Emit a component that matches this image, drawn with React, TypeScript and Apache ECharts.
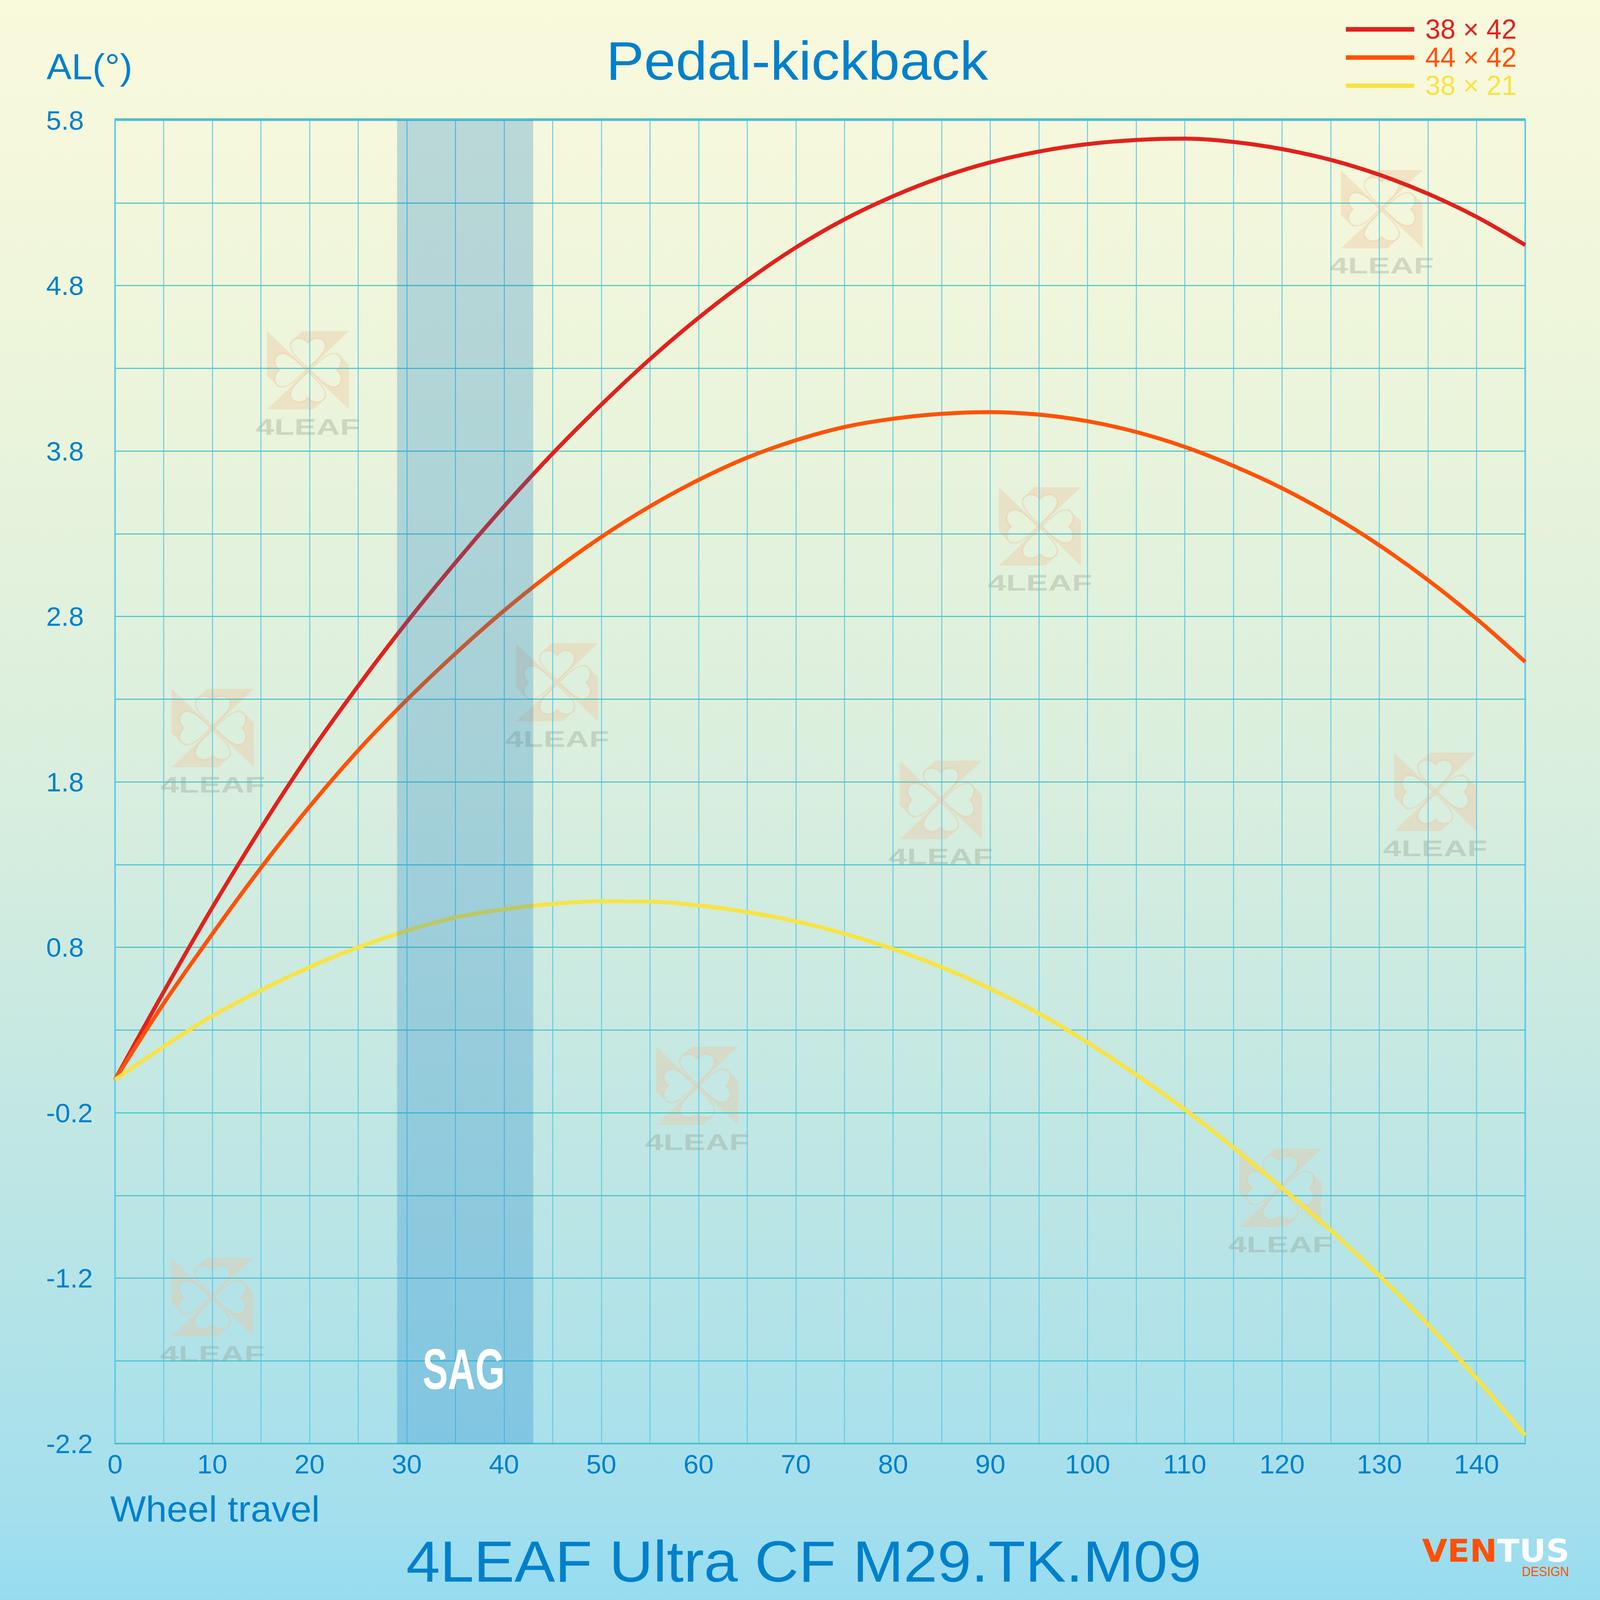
import React, { useEffect, useRef } from 'react';
import * as echarts from 'echarts';

const W = 7039;
const H = 7365;

// ---------- data ----------
const wheelTravel = [0, 5, 10, 15, 20, 25, 30, 35, 40, 45, 50, 55, 60, 65, 70, 75, 80, 85, 90, 95, 100, 105, 110, 115, 120, 125, 130, 135, 140, 145];
const al38x42 = [0, 0.53, 1.04, 1.52, 1.97, 2.38, 2.765, 3.125, 3.465, 3.785, 4.08, 4.355, 4.605, 4.83, 5.03, 5.2, 5.34, 5.455, 5.545, 5.61, 5.655, 5.68, 5.688, 5.668, 5.625, 5.56, 5.47, 5.355, 5.215, 5.045];
const al44x42 = [0, 0.46, 0.88, 1.28, 1.65, 1.99, 2.295, 2.575, 2.835, 3.07, 3.28, 3.465, 3.625, 3.76, 3.865, 3.945, 3.995, 4.025, 4.035, 4.02, 3.98, 3.915, 3.825, 3.71, 3.575, 3.415, 3.23, 3.02, 2.785, 2.525];
const al38x21 = [0, 0.2, 0.385, 0.54, 0.68, 0.8, 0.9, 0.98, 1.03, 1.062, 1.078, 1.076, 1.053, 1.013, 0.957, 0.882, 0.79, 0.68, 0.55, 0.4, 0.225, 0.03, -0.18, -0.41, -0.655, -0.91, -1.185, -1.48, -1.805, -2.15];
const seriesNames = ['38 × 42', '44 × 42', '38 × 21'];
const seriesColors = ['#E2211C', '#FF5206', '#F8E343'];

const X_MIN = 0;
const X_MAX = 145;
const X_STEP = 5;
const X_LABEL_STEP = 10;
const Y_MIN = -2.2;
const Y_MAX = 5.8;
const Y_STEP = 0.5;
const Y_LABEL_STEP = 1;

const sagRange = [29, 43];
const sagLabel = { text: 'SAG', x: 35.85, y: -1.75 };

const titleText = 'Pedal-kickback';
const yAxisName = 'AL(°)';
const xAxisName = 'Wheel travel';
const modelName = '4LEAF Ultra CF M29.TK.M09';

// ---------- styling ----------
const FONT = "'Liberation Sans', Arial, Helvetica, sans-serif";
const BLUE = '#0080CC';

const bgStops: [number, [number, number, number]][] = [
  [0, [249, 249, 220]],
  [0.07, [246, 248, 220]],
  [0.23, [236, 245, 219]],
  [0.5, [216, 238, 222]],
  [0.73, [190, 230, 228]],
  [0.95, [163, 223, 237]],
  [1, [150, 220, 241]],
];
const rgb = (c: number[]) => `rgb(${c.map((v) => Math.round(v)).join(',')})`;
function bgAt(y: number) {
  const t = Math.min(1, Math.max(0, y / H));
  for (let i = 0; i < bgStops.length - 1; i++) {
    const [o0, c0] = bgStops[i];
    const [o1, c1] = bgStops[i + 1];
    if (t >= o0 && t <= o1) {
      const f = (t - o0) / (o1 - o0);
      return rgb(c0.map((v, j) => v + (c1[j] - v) * f));
    }
  }
  return rgb(bgStops[bgStops.length - 1][1]);
}

// ---------- watermark shapes (0..100 box) ----------
type Pt = [number, number];
const rotPt = (p: Pt, k: number): Pt => {
  let [x, y] = p;
  for (let i = 0; i < k; i++) {
    const nx = 100 - y;
    const ny = x;
    x = nx;
    y = ny;
  }
  return [x, y];
};
const fmt = (p: Pt) => p.map((v) => v.toFixed(2)).join(' ');
const heartStart: Pt = [50, 48];
const heartSegs: Pt[][] = [
  [[45, 42], [31, 31], [29, 21]],
  [[27.5, 13], [34, 9], [40, 9.5]],
  [[45, 10], [48, 12.5], [50, 15]],
  [[52, 12.5], [55, 10], [60, 9.5]],
  [[66, 9], [72.5, 13], [71, 21]],
  [[69, 31], [55, 42], [50, 48]],
];
const blade: Pt[] = [[0, 0], [50, 50], [15, 72], [0, 57]];
let cloverD = '';
let pinD = '';
for (let k = 0; k < 4; k++) {
  cloverD += 'M' + fmt(rotPt(heartStart, k));
  heartSegs.forEach((s) => {
    cloverD += ' C' + s.map((p) => fmt(rotPt(p, k))).join(' ');
  });
  cloverD += ' Z ';
  pinD += 'M' + blade.map((p) => fmt(rotPt(p, k))).join(' L') + ' Z ';
}
echarts.graphic.registerShape('wmPinwheel', echarts.graphic.extendPath(pinD, {}));
echarts.graphic.registerShape('wmClover', echarts.graphic.extendPath(cloverD, {}));

const watermarkCenters: Pt[] = [
  [1355, 1704], [6079, 963], [4575, 2423], [2451, 3141], [936, 3351],
  [4139, 3682], [6314, 3645], [3067, 4998], [5633, 5468], [934, 5971],
];
const WM_SIZE = 361;
const WM_TAN = 'rgba(239,194,157,0.37)';
const WM_TEXT = 'rgba(140,145,125,0.30)';

type Sc = { sx: number; sy: number };

function buildGraphic({ sx, sy }: Sc) {
  const px = (v: number) => v * sx;
  const py = (v: number) => v * sy;
  const fx = sx / sy; // horizontal correction for text sized by sy
  const els: any[] = [];
  watermarkCenters.forEach(([cx, cy]) => {
    const base = {
      x: px(cx - WM_SIZE / 2), y: py(cy - WM_SIZE / 2),
      scaleX: (WM_SIZE / 100) * sx, scaleY: (WM_SIZE / 100) * sy, z: -2, silent: true,
    };
    els.push({ type: 'wmPinwheel', ...base, style: { fill: WM_TAN } });
    els.push({ type: 'wmClover', ...base, style: { fill: bgAt(cy), stroke: WM_TAN, lineWidth: 2 } });
    els.push({
      type: 'text', x: px(cx), y: py(cy + 261), scaleX: 1.42 * fx, z: -2, silent: true,
      style: {
        text: '4LEAF', fill: WM_TEXT, fontSize: py(102), fontWeight: 'bold', fontFamily: FONT,
        align: 'center', verticalAlign: 'middle',
      },
    });
  });
  const txt = (text: string, x: number, y: number, size: number, align: string, fill = BLUE, extraScale = 1) => ({
    type: 'text', x: px(x), y: py(y), scaleX: fx * extraScale, z: 10,
    style: { text, fill, fontSize: py(size), fontFamily: FONT, align, verticalAlign: 'middle' },
  });
  els.push(txt(titleText, 3507, 279, 250, 'center'));
  els.push(txt(yAxisName, 205, 308, 165, 'left'));
  els.push(txt(xAxisName, 485, 6946, 166, 'left'));
  els.push(txt(modelName, 3536, 7188, 268, 'center'));
  els.push({
    type: 'text', x: px(6905), y: py(7139), scaleX: fx, z: 10,
    style: {
      text: '{a|VEN}{b|TUS}', align: 'right', verticalAlign: 'middle',
      rich: {
        a: { fill: '#FF5003', fontSize: py(144), fontWeight: 'bold', fontFamily: "'DejaVu Sans', sans-serif" },
        b: { fill: '#FFFFFF', fontSize: py(144), fontWeight: 'bold', fontFamily: "'DejaVu Sans', sans-serif" },
      },
    },
  });
  els.push(txt('DESIGN', 6903, 7234, 63, 'right', '#FF5003', 0.86));
  return els;
}

function buildOption(sc: Sc): any {
  const { sx, sy } = sc;
  const px = (v: number) => v * sx;
  const py = (v: number) => v * sy;
  const pf = (v: number) => v * (sx + sy) / 2;
  const lineSeries = [al38x42, al44x42, al38x21].map((vals, i) => ({
    name: seriesNames[i],
    type: 'line',
    data: wheelTravel.map((x, j) => [x, vals[j]]),
    smooth: 0.35,
    showSymbol: false,
    symbol: 'none',
    color: seriesColors[i],
    lineStyle: { color: seriesColors[i], width: pf(18) },
    z: 2,
    silent: true,
  }));

  const sagSeries = {
    type: 'custom',
    name: 'SAG',
    data: [[sagRange[0], sagRange[1]]],
    encode: { x: [0, 1] },
    z: 5,
    silent: true,
    renderItem: (params: any, api: any) => {
      const p1 = api.coord([api.value(0), Y_MAX]);
      const p2 = api.coord([api.value(1), Y_MIN]);
      const pt = api.coord([sagLabel.x, sagLabel.y]);
      return {
        type: 'group',
        children: [
          {
            type: 'rect',
            shape: { x: p1[0], y: p1[1], width: p2[0] - p1[0], height: p2[1] - p1[1] },
            style: { fill: 'rgba(8,118,198,0.25)' },
          },
          {
            type: 'text', x: pt[0], y: pt[1], scaleX: 0.63 * sx / sy,
            style: {
              text: sagLabel.text, fill: '#FFFFFF', fontSize: py(265), fontWeight: 'bold', fontFamily: FONT,
              align: 'center', verticalAlign: 'middle',
            },
          },
        ],
      };
    },
  };

  return {
    animation: false,
    backgroundColor: {
      type: 'linear', x: 0, y: 0, x2: 0, y2: 1,
      colorStops: bgStops.map(([o, c]) => ({ offset: o, color: rgb(c) })),
    },
    grid: {
      left: px(506), right: px(329), top: py(553), bottom: py(720),
      show: true, borderColor: '#64CCEE', borderWidth: pf(7), backgroundColor: 'transparent',
    },
    legend: {
      orient: 'vertical', left: px(5921), top: py(72), padding: 0,
      itemWidth: px(301), itemHeight: py(21), itemGap: py(4), icon: 'rect', selectedMode: false,
      itemStyle: { borderWidth: 0 },
      textStyle: { fontSize: py(125), lineHeight: py(125), fontFamily: FONT, padding: [0, 0, 0, px(40)] },
      data: seriesNames.map((n, i) => ({ name: n, textStyle: { color: seriesColors[i] } })),
    },
    xAxis: [
      {
        type: 'value', min: X_MIN, max: X_MAX, interval: X_STEP, position: 'bottom',
        axisLine: { show: true, onZero: false, lineStyle: { color: '#3FBFC2', width: pf(5) } },
        axisTick: { show: false },
        axisLabel: {
          color: BLUE, fontSize: pf(122), fontFamily: FONT, margin: py(32),
          formatter: (v: number) => (Math.round(v - X_MIN) % X_LABEL_STEP === 0 ? String(Math.round(v)) : ''),
        },
        splitLine: { show: true, lineStyle: { color: '#5CC8E6', width: pf(4) } },
      },
      {
        type: 'value', min: X_MIN, max: X_MAX, position: 'top', offset: py(6),
        axisLine: { show: true, onZero: false, lineStyle: { color: '#3FBFC2', width: pf(5) } },
        axisTick: { show: false }, axisLabel: { show: false }, splitLine: { show: false },
      },
    ],
    yAxis: {
      type: 'value', min: Y_MIN, max: Y_MAX, interval: Y_STEP,
      axisLine: { show: false },
      axisTick: { show: false },
      axisLabel: {
        color: BLUE, fontSize: pf(122), fontFamily: FONT, margin: px(303), align: 'left',
        formatter: (v: number) =>
          Math.round((v - Y_MIN) * 10) % Math.round(Y_LABEL_STEP * 10) === 0 ? v.toFixed(1) : '',
      },
      splitLine: { show: true, lineStyle: { color: '#3EBEC8', width: pf(4) } },
    },
    graphic: buildGraphic(sc),
    series: [...lineSeries, sagSeries],
  };
}

export default function App() {
  const ref = useRef<HTMLDivElement>(null);
  const [size] = React.useState(() => ({
    w: window.innerWidth || W,
    h: window.innerHeight || H,
  }));
  useEffect(() => {
    document.body.style.margin = '0';
    document.body.style.overflow = 'hidden';
    if (!ref.current) return;
    const sc = { sx: size.w / W, sy: size.h / H };
    const chart = echarts.init(ref.current, null, { renderer: 'svg', width: size.w, height: size.h });
    chart.setOption(buildOption(sc));
    return () => chart.dispose();
  }, [size]);
  return <div ref={ref} style={{ width: size.w, height: size.h }} />;
}
